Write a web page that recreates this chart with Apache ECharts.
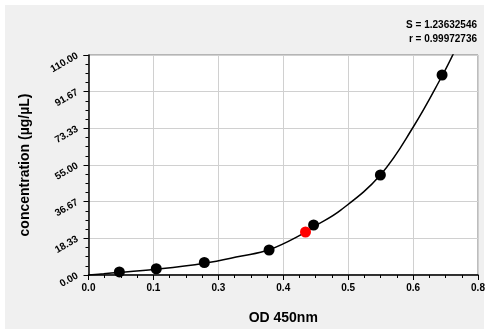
<!DOCTYPE html>
<html><head><meta charset="utf-8">
<script src="https://cdn.jsdelivr.net/npm/echarts@6/dist/echarts.min.js"></script>
<style>html,body{margin:0;padding:0;background:#fff}#c{width:489px;height:334px}</style>
</head><body><div id="c"></div>
<script>
// standards (OD 450nm, concentration µg/µL)
const stdOD   = [0.061, 0.134, 0.229, 0.357, 0.445, 0.577, 0.699];
const stdConc = [1.5625, 3.125, 6.25, 12.5, 25, 50, 100];
// sample (red)
const sampleOD   = [0.429];
const sampleConc = [21.5];
// fitted curve
const curveOD   = [0, 0.030, 0.060, 0.134, 0.229, 0.300, 0.357, 0.429, 0.444, 0.498, 0.577, 0.642, 0.700, 0.722];
const curveConc = [0, 0.6, 1.3, 2.9, 5.9, 9.4, 12.6, 21.3, 23.9, 32.3, 50.0, 74.0, 100.0, 111.0];
// tick labels
const xTickLabels = ['0.0','0.1','0.3','0.4','0.5','0.6','0.8'];
const yTickLabels = ['0.00','18.33','36.67','55.00','73.33','91.67','110.00'];
const xMax = 0.77, yMax = 110;
const statS = 'S = 1.23632546', statR = 'r = 0.99972736';

const zip = (a,b) => a.map((v,i)=>[v,b[i]]);
const ff = 'Arial, "Liberation Sans", sans-serif';
const chart = echarts.init(document.getElementById('c'), null, {renderer:'canvas'});
chart.setOption({
  animation:false,
  backgroundColor:'#ffffff',
  graphic:[
    {type:'rect', z:-10, silent:true, shape:{x:5,y:5,width:479,height:324}, style:{fill:'#f0f0f0'}},
    {type:'text', right:12, top:20, style:{text:statS, font:'bold 10px '+ff, fill:'#000', textAlign:'right'}},
    {type:'text', right:12, top:34, style:{text:statR, font:'bold 10px '+ff, fill:'#000', textAlign:'right'}}
  ],
  grid:{left:88.5, top:55, right:11, bottom:59, show:true, backgroundColor:'#ffffff', borderColor:'#7a7a7a', borderWidth:1},
  xAxis:{
    type:'value', min:0, max:xMax, interval:xMax/6,
    name:'OD 450nm', nameLocation:'middle', nameGap:36,
    nameTextStyle:{fontFamily:ff, fontWeight:'bold', fontSize:14, color:'#000'},
    axisLine:{show:true, onZero:false, lineStyle:{color:'#000', width:1.5}},
    axisTick:{show:true, length:5, lineStyle:{color:'#000'}},
    minorTick:{show:true, splitNumber:4, length:3, lineStyle:{color:'#000'}},
    splitLine:{show:true, lineStyle:{color:'#d0d0d0', width:1}},
    axisLabel:{margin:8, fontFamily:ff, fontWeight:'bold', fontSize:10, color:'#000',
      formatter:(v,i)=> xTickLabels[i] !== undefined ? xTickLabels[i] : ''}
  },
  yAxis:{
    type:'value', min:0, max:yMax, interval:yMax/6,
    name:'concentration (µg/µL)', nameLocation:'middle', nameGap:56,
    nameTextStyle:{fontFamily:ff, fontWeight:'bold', fontSize:14, color:'#000'},
    axisLine:{show:true, onZero:false, lineStyle:{color:'#000', width:1.5}},
    axisTick:{show:true, length:5, lineStyle:{color:'#000'}},
    minorTick:{show:true, splitNumber:4, length:3, lineStyle:{color:'#000'}},
    splitLine:{show:true, lineStyle:{color:'#d0d0d0', width:1}},
    axisLabel:{margin:11, rotate:30, fontFamily:ff, fontWeight:'bold', fontSize:10, color:'#000',
      formatter:(v,i)=> yTickLabels[i] !== undefined ? yTickLabels[i] : ''}
  },
  series:[
    {type:'line', data:zip(curveOD,curveConc), smooth:0.4, showSymbol:false, symbol:'none', clip:true,
     lineStyle:{color:'#000', width:1.5}, z:2},
    {type:'scatter', data:zip(stdOD,stdConc), symbolSize:11, itemStyle:{color:'#000', opacity:1}, z:3},
    {type:'scatter', data:zip(sampleOD,sampleConc), symbolSize:11, itemStyle:{color:'#ff0000', opacity:1}, z:4}
  ]
});
</script></body></html>
